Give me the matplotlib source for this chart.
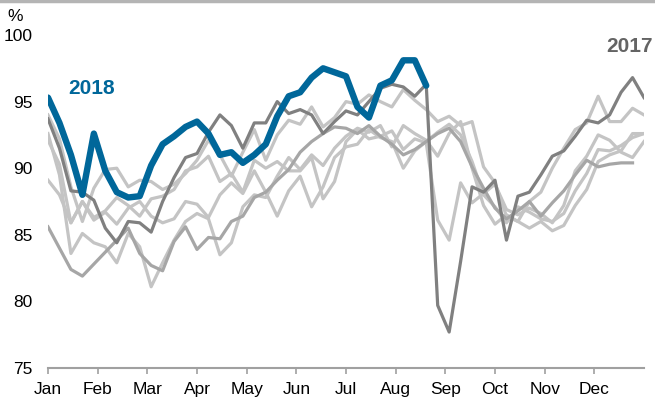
import numpy as np
import matplotlib
matplotlib.use("Agg")
import matplotlib.pyplot as plt

plt.rcParams['font.family'] = ['Liberation Sans', 'DejaVu Sans']

months = ['Jan', 'Feb', 'Mar', 'Apr', 'May', 'Jun', 'Jul', 'Aug', 'Sep', 'Oct', 'Nov', 'Dec']

# weekly refinery utilisation, %
y2018 = [95.3, 93.4, 91.0, 88.0, 92.6, 89.8, 88.2, 87.8, 87.9, 90.2, 91.8, 92.4,
         93.1, 93.5, 92.6, 91.0, 91.2, 90.4, 91.0, 91.8, 93.9, 95.4, 95.7, 96.8,
         97.5, 97.2, 96.9, 94.6, 93.8, 96.2, 96.6, 98.1, 98.1, 96.2]

y2017 = [93.7, 91.5, 88.3, 88.2, 87.6, 85.5, 84.4, 86.0, 85.9, 85.2, 87.5, 89.3,
         90.8, 91.1, 92.7, 94.0, 93.2, 91.5, 93.4, 93.4, 95.0, 94.1, 94.4, 94.0,
         92.6, 93.5, 94.3, 94.0, 95.0, 96.0, 96.3, 96.1, 95.4, 96.3, 79.7, 77.7,
         83.0, 88.6, 88.2, 89.1, 84.6, 87.9, 88.2, 89.5, 90.9, 91.3, 92.4, 93.6,
         93.4, 94.0, 95.7, 96.8, 95.3]

# older years
mid_grey = [85.6, 84.0, 82.4, 81.9, 82.8, 83.7, 84.6, 85.5, 83.6, 82.7, 82.3, 84.5,
            85.6, 83.9, 84.8, 84.7, 86.0, 86.4, 87.8, 88.2, 89.1, 89.9, 91.2, 92.0,
            92.6, 93.1, 93.0, 92.6, 93.2, 92.4, 91.8, 91.0, 91.4, 92.0, 92.6, 93.0,
            92.0, 90.1, 88.5, 87.0, 86.2, 86.8, 87.5, 86.4, 87.4, 88.3, 89.5, 90.6,
            90.1, 90.3, 90.4, 90.4]

light_1 = [94.0, 92.2, 88.6, 86.0, 88.5, 89.9, 90.0, 88.6, 89.1, 89.0, 88.4, 88.8,
           89.6, 90.6, 92.1, 91.0, 89.4, 91.2, 92.9, 90.6, 92.5, 93.6, 93.3, 94.6,
           93.1, 93.8, 95.0, 94.8, 95.5, 95.0, 94.6, 95.9, 95.1, 94.4, 93.5, 93.9,
           93.2, 93.5, 90.1, 88.9, 86.4, 86.0, 87.5, 88.2, 90.0, 91.5, 92.9, 93.4,
           95.4, 93.5, 93.5, 94.5, 94.0]

light_2 = [92.6, 89.5, 83.6, 85.1, 84.4, 84.1, 82.9, 85.1, 84.1, 81.1, 82.9, 84.6,
           86.0, 86.6, 86.2, 83.5, 84.4, 87.1, 88.0, 87.8, 89.4, 90.8, 89.9, 91.0,
           90.2, 91.5, 92.4, 93.0, 92.7, 93.2, 91.6, 93.2, 92.6, 92.1, 90.9, 92.6,
           93.5, 90.0, 87.2, 85.8, 86.5, 86.0, 85.5, 86.0, 85.3, 85.7, 87.2, 88.4,
           90.5, 91.0, 91.3, 92.6, 92.6]

light_3 = [92.1, 90.3, 85.9, 87.5, 86.3, 86.8, 87.8, 87.2, 86.4, 87.7, 87.9, 88.4,
           89.8, 90.1, 90.9, 89.0, 89.6, 88.2, 90.6, 90.0, 90.5, 89.8, 89.8, 90.8,
           87.7, 89.0, 92.0, 92.9, 92.2, 92.4, 92.8, 91.4, 92.2, 91.9, 86.1, 84.6,
           88.9, 87.4, 88.1, 88.8, 86.9, 86.5, 87.0, 86.6, 85.9, 87.2, 89.8, 90.9,
           92.5, 92.1, 91.2, 90.8, 92.0]

light_4 = [89.1, 88.0, 85.9, 87.5, 86.1, 86.7, 85.8, 87.0, 87.5, 86.4, 85.9, 86.2,
           87.5, 87.3, 86.3, 88.0, 88.9, 88.1, 89.8, 88.2, 86.4, 88.3, 89.4, 87.1,
           88.6, 90.8, 91.6, 91.8, 92.9, 92.3, 92.0, 90.0, 91.3, 92.0, 92.7, 93.3,
           92.5, 90.5, 88.0, 87.1, 85.9, 87.1, 86.7, 86.2, 86.0, 86.6, 88.3, 89.6,
           91.4, 91.3, 91.7, 92.3, 92.6]

light_lines = [light_1, light_2, light_3, light_4]

fig = plt.figure(figsize=(6.55, 4.01), dpi=100)
ax = fig.add_axes([48 / 655, 33 / 401, 596 / 655, 333 / 401])

for s in light_lines:
    ax.plot(np.arange(len(s)), s, color='#c4c4c4', lw=2.3, zorder=2)
ax.plot(np.arange(len(mid_grey)), mid_grey, color='#a6a6a6', lw=2.3, zorder=3)
ax.plot(np.arange(len(y2017)), y2017, color='#808080', lw=2.3, zorder=4)
ax.plot(np.arange(len(y2018)), y2018, color='#00679a', lw=4.6, zorder=5,
        solid_capstyle='round', solid_joinstyle='round')

ax.set_xlim(0, 52)
ax.set_ylim(75, 100)
ax.set_xticks(np.arange(12) * 52 / 12)
ax.set_xticklabels(months)
ax.set_yticks([75, 80, 85, 90, 95, 100])

for side in ['top', 'right', 'left']:
    ax.spines[side].set_visible(False)
ax.spines['bottom'].set_color('#a0a0a0')
ax.spines['bottom'].set_linewidth(1.5)
ax.tick_params(axis='x', length=4, width=1.2, color='#a0a0a0', pad=6,
               labelsize=12.5, labelcolor='black')
ax.tick_params(axis='y', length=0, pad=11, labelsize=12.5, labelcolor='black')

ax.text(0.023, 0.96, '%', transform=fig.transFigure, fontsize=12.5,
        ha='center', va='center')
ax.text(1.75, 96.0, '2018', color='#00679a', fontsize=15, fontweight='bold',
        ha='left', va='center')
ax.text(0.997, 0.885, '2017', transform=fig.transFigure, color='#646464',
        fontsize=15, fontweight='bold', ha='right', va='center')

fig.add_artist(plt.Line2D([0, 1], [0.997, 0.997], color='#b4b4b4', lw=2.5,
                          transform=fig.transFigure))

fig.savefig('out.png', dpi=100)
